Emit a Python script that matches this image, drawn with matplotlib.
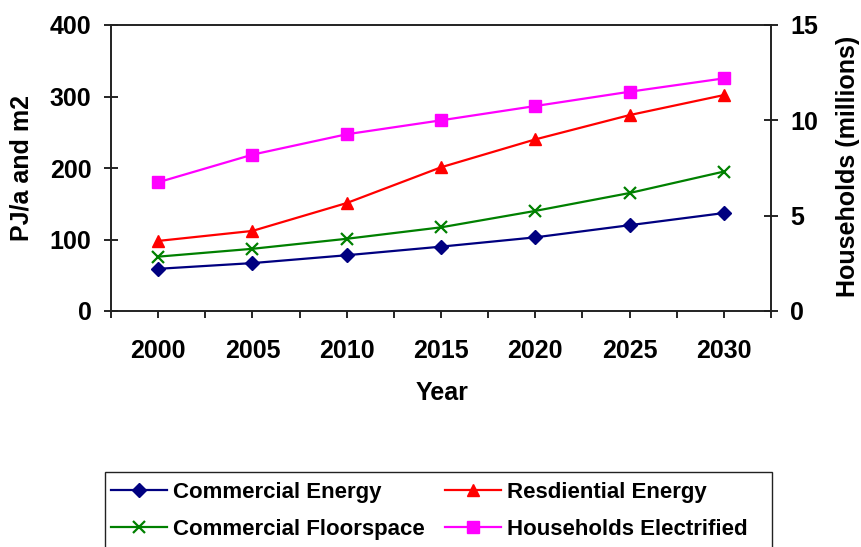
import matplotlib

matplotlib.use("Agg")
import matplotlib.pyplot as plt
from matplotlib.patches import Rectangle
from matplotlib.ticker import FixedLocator

plt.rcParams["font.family"] = ["Liberation Sans", "DejaVu Sans"]
plt.rcParams["font.weight"] = "bold"

years = [2000, 2005, 2010, 2015, 2020, 2025, 2030]
commercial_energy = [59, 67, 78, 90, 103, 120, 137]
residential_energy = [98, 112, 151, 201, 240, 274, 302]
commercial_floorspace = [76, 87, 101, 117, 140, 165, 195]
households_electrified = [6.75, 8.2, 9.27, 10.0, 10.75, 11.5, 12.2]

W, H = 861, 547
fig = plt.figure(figsize=(W / 100, H / 100), dpi=100)
ax = fig.add_axes([111 / W, 1 - 311 / H, 660 / W, 286 / H])
ax2 = ax.twinx()

line_kw = dict(linewidth=1.6, markersize=8.5)
h_ce, = ax.plot(years, commercial_energy, color="#000080", marker="D",
                markersize=7.5, linewidth=1.6, label="Commercial Energy")
h_re, = ax.plot(years, residential_energy, color="#ff0000", marker="^",
                label="Resdiential Energy", **line_kw)
h_cf, = ax.plot(years, commercial_floorspace, color="#008000", marker="x",
                markeredgewidth=1.6, label="Commercial Floorspace", **line_kw)
h_he, = ax2.plot(years, households_electrified, color="#ff00ff", marker="s",
                 label="Households Electrified", **line_kw)

ax.set_xlim(1997.5, 2032.5)
ax.set_ylim(0, 400)
ax2.set_ylim(0, 15)
ax.set_xticks(years)
ax.set_xticklabels([str(y) for y in years])
ax.xaxis.set_minor_locator(FixedLocator([y + 2.5 for y in years] + [1997.5]))
ax.set_yticks([0, 100, 200, 300, 400])
ax2.set_yticks([0, 5, 10, 15])

for a in (ax, ax2):
    for s in a.spines.values():
        s.set_color("#222222")
        s.set_linewidth(1.2)

ax.tick_params(axis="x", which="both", direction="out", length=5, width=1.2,
               labelsize=18, pad=15)
ax.tick_params(axis="y", direction="inout", length=10, width=1.2,
               labelsize=18, pad=9)
ax2.tick_params(axis="y", direction="inout", length=10, width=1.2,
                labelsize=18, pad=9)

# axis titles placed in figure pixels
fig.text(442 / W, 1 - 393 / H, "Year", fontsize=18, fontweight="bold",
         ha="center", va="center")
fig.text(22 / W, 1 - 168 / H, "PJ/a and m2", fontsize=18, fontweight="bold",
         ha="center", va="center", rotation=90)
fig.text(848 / W, 1 - 166 / H, "Households (millions)", fontsize=18,
         fontweight="bold", ha="center", va="center", rotation=90)

handles = [h_ce, h_cf, h_re, h_he]
leg = fig.legend(handles, [h.get_label() for h in handles],
                 ncol=2, loc="upper left",
                 bbox_to_anchor=(111 / W, 1 - 482 / H),
                 fontsize=16, frameon=False, borderpad=0,
                 handlelength=2.5, handletextpad=0.3, columnspacing=0.9,
                 labelspacing=0.72, borderaxespad=0)
for t in leg.get_texts():
    t.set_fontweight("bold")

# legend border runs off the bottom of the figure
fig.patches.append(Rectangle((105 / W, -0.05), 667 / W, 0.05 + 1 - 472 / H,
                             transform=fig.transFigure, fill=False,
                             edgecolor="#222222", linewidth=1.0))

fig.savefig("out.png", dpi=100)
